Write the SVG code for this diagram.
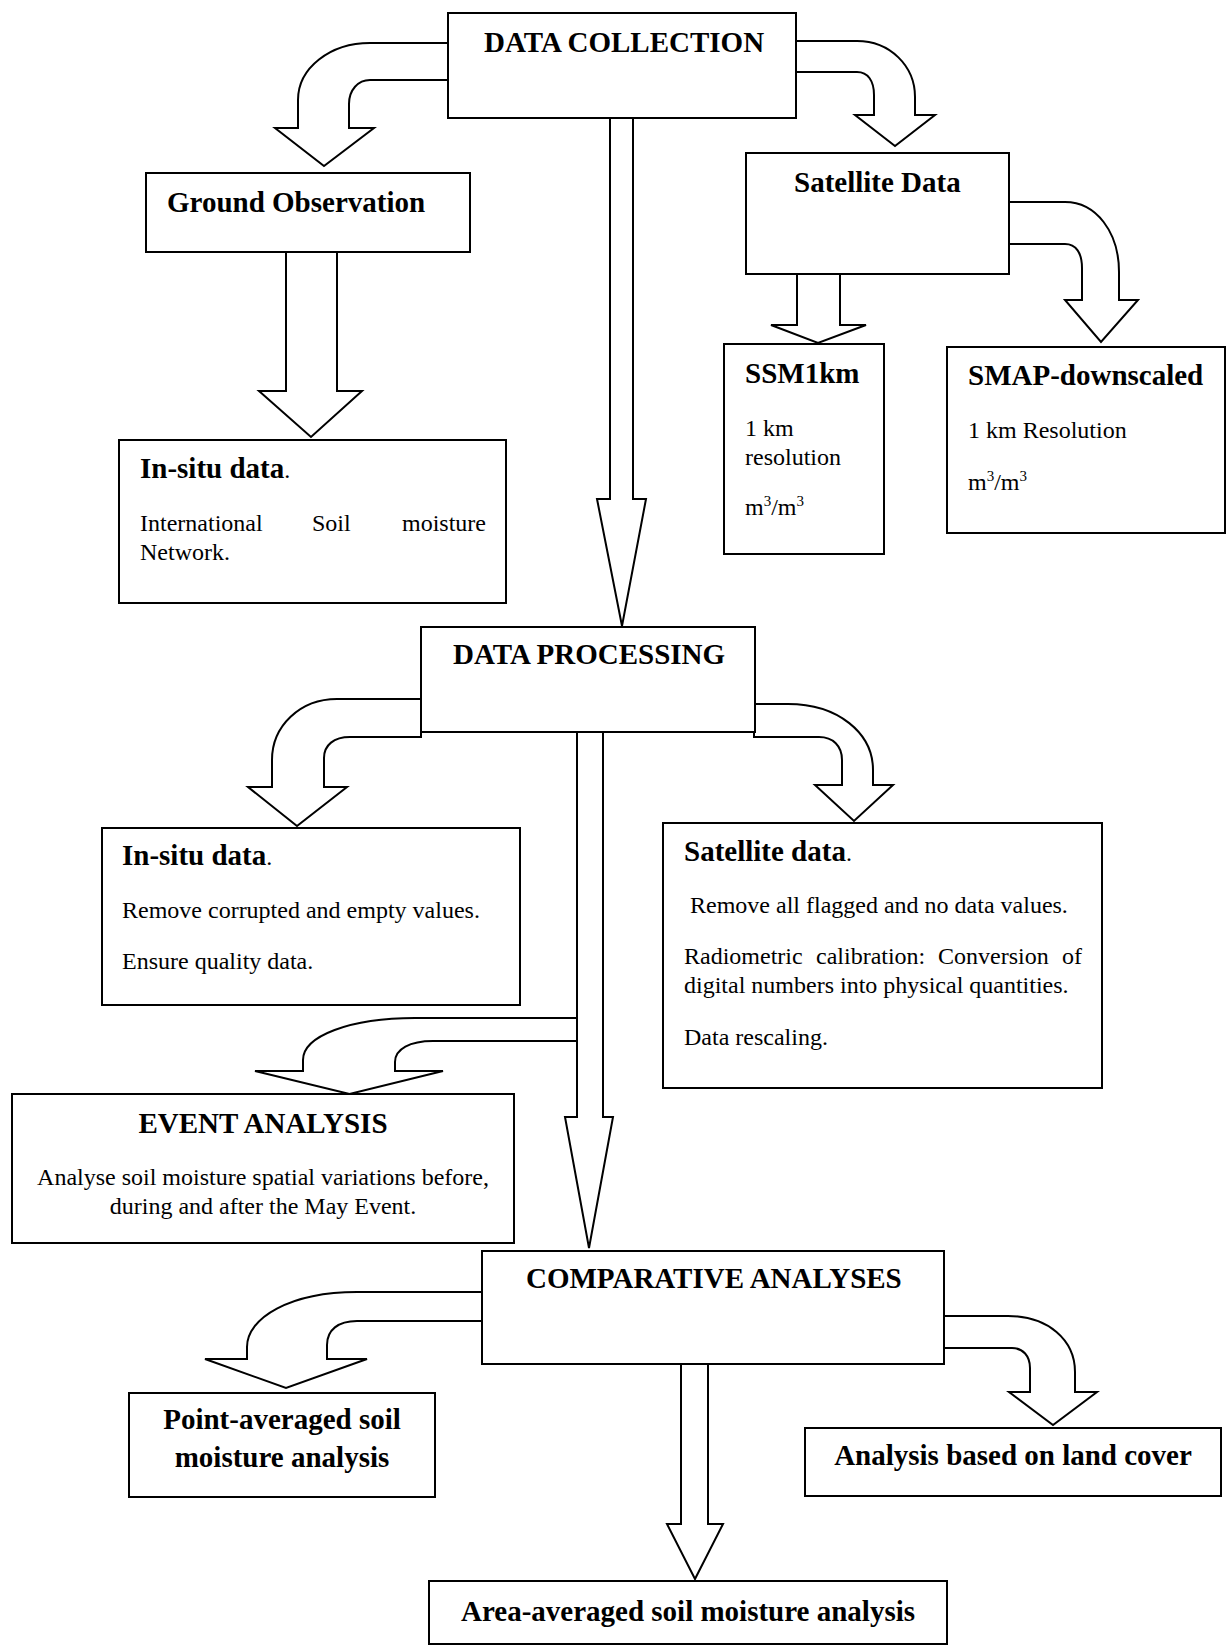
<svg xmlns="http://www.w3.org/2000/svg" width="1228" height="1645" viewBox="0 0 1228 1645">
<style>
.box{fill:#fff;stroke:#000;stroke-width:2}
.arr{fill:#fff;stroke:#000;stroke-width:2;stroke-linejoin:miter}
.h{font-family:"Liberation Serif","Times New Roman",serif;font-weight:bold;font-size:29px;fill:#000}
.t{font-family:"Liberation Serif","Times New Roman",serif;font-size:24px;fill:#000}
.c{text-anchor:middle}
</style>
<rect width="1228" height="1645" fill="#fff"/>
<g id="connectors">
<!-- DATA COLLECTION -> Ground Observation -->
<path class="arr" d="M448,43 H370 C330,43 298,68 298,100 V128 H275 L324,166 L374,128 H349 V104 C349,90 358,80 370,80 H448"/>
<!-- DATA COLLECTION -> Satellite Data -->
<path class="arr" d="M796,41 H857 C890,41 915,66 915,97 V115 H935 L895,146 L855,115 H874 V95 C874,81 868,72 857,72 H796"/>
<!-- DATA COLLECTION -> DATA PROCESSING -->
<path class="arr" d="M610,118 V499 H597 L622,626 L646,499 H633 V118"/>
<!-- Ground Observation -> In-situ -->
<path class="arr" d="M286,252 V391 H259 L311,437 L362,391 H337 V252"/>
<!-- Satellite Data -> SSM1km -->
<path class="arr" d="M797,274 V325 H771 L818,343 L866,325 H840 V274"/>
<!-- Satellite Data -> SMAP -->
<path class="arr" d="M1009,202 H1065 C1096,202 1119,232 1119,272 V300 H1138 L1101,342 L1065,300 H1082 V268 C1082,253 1076,244 1065,244 H1009"/>
<!-- DATA PROCESSING -> In-situ -->
<path class="arr" d="M421,699 H337 C300,699 272,726 272,760 V787 H248 L297,826 L347,787 H324 V758 C324,745 334,737 350,737 H421 Z"/>
<!-- DATA PROCESSING -> Satellite data -->
<path class="arr" d="M754,704 H788 C838,704 873,733 873,770 V785 H893 L854,821 L815,785 H842 V760 C842,746 833,737 819,737 H754 Z"/>
<!-- DATA PROCESSING -> COMPARATIVE ANALYSES -->
<path class="arr" d="M577,732 V1117 H565 L589,1248 L613,1117 H603 V732"/>
<!-- shaft -> EVENT ANALYSIS -->
<path class="arr" d="M577,1018 H415 C350,1018 303,1036 303,1060 V1071 H255 L349.5,1094 L443,1071 H395 V1062 C395,1049 410,1041 433,1041 H577 Z"/>
<!-- COMPARATIVE -> Point-averaged -->
<path class="arr" d="M482,1292 H357 C290,1292 247,1318 247,1347 V1359 H205 L286,1388 L367,1359 H327 V1345 C327,1330 338,1321 357,1321 H482 Z"/>
<!-- COMPARATIVE -> Land cover -->
<path class="arr" d="M944,1316 H1008 C1048,1316 1075,1340 1075,1372 V1392 H1097 L1053,1425 L1009,1392 H1030 V1368 C1030,1356 1023,1348 1012,1348 H944 Z"/>
<!-- COMPARATIVE -> Area-averaged -->
<path class="arr" d="M681,1364 V1524 H667 L695,1579 L723,1524 H708 V1364"/>
</g>
<g id="data-collection">
<rect class="box" x="448" y="13" width="348" height="105"/>
<text class="h" x="484" y="52">DATA COLLECTION</text>
</g>
<g id="ground-observation">
<rect class="box" x="146" y="173" width="324" height="79"/>
<text class="h" x="167" y="212">Ground Observation</text>
</g>
<g id="insitu-collection">
<rect class="box" x="119" y="440" width="387" height="163"/>
<text class="h" x="140" y="478">In-situ data<tspan class="t" font-weight="normal" font-size="24">.</tspan></text>
<text class="t" y="531"><tspan x="140">International</tspan><tspan x="312">Soil</tspan><tspan x="402">moisture</tspan></text>
<text class="t" x="140" y="560">Network.</text>
</g>
<g id="satellite-data">
<rect class="box" x="746" y="153" width="263" height="121"/>
<text class="h" x="794" y="192">Satellite Data</text>
</g>
<g id="ssm1km">
<rect class="box" x="724" y="344" width="160" height="210"/>
<text class="h" x="745" y="383">SSM1km</text>
<text class="t" x="745" y="436">1 km</text>
<text class="t" x="745" y="465">resolution</text>
<text class="t" x="745" y="515">m<tspan font-size="15" dy="-9">3</tspan><tspan dy="9">/m</tspan><tspan font-size="15" dy="-9">3</tspan></text>
</g>
<g id="smap-downscaled">
<rect class="box" x="947" y="347" width="278" height="186"/>
<text class="h" x="968" y="385">SMAP-downscaled</text>
<text class="t" x="968" y="438">1 km Resolution</text>
<text class="t" x="968" y="490">m<tspan font-size="15" dy="-9">3</tspan><tspan dy="9">/m</tspan><tspan font-size="15" dy="-9">3</tspan></text>
</g>
<g id="data-processing">
<rect class="box" x="421" y="627" width="334" height="105"/>
<text class="h" x="453" y="664">DATA PROCESSING</text>
</g>
<g id="insitu-processing">
<rect class="box" x="102" y="828" width="418" height="177"/>
<text class="h" x="122" y="865">In-situ data<tspan font-weight="normal" font-size="24">.</tspan></text>
<text class="t" x="122" y="918">Remove corrupted and empty values.</text>
<text class="t" x="122" y="969">Ensure quality data.</text>
</g>
<g id="satellite-processing">
<rect class="box" x="663" y="823" width="439" height="265"/>
<text class="h" x="684" y="861">Satellite data<tspan font-weight="normal" font-size="24">.</tspan></text>
<text class="t" x="690" y="913">Remove all flagged and no data values.</text>
<text class="t" y="964"><tspan x="684">Radiometric</tspan><tspan x="816">calibration:</tspan><tspan x="938">Conversion</tspan><tspan x="1062">of</tspan></text>
<text class="t" x="684" y="993">digital numbers into physical quantities.</text>
<text class="t" x="684" y="1045">Data rescaling.</text>
</g>
<g id="event-analysis">
<rect class="box" x="12" y="1094" width="502" height="149"/>
<text class="h c" x="263" y="1133">EVENT ANALYSIS</text>
<text class="t c" x="263" y="1185">Analyse soil moisture spatial variations before,</text>
<text class="t c" x="263" y="1214">during and after the May Event.</text>
</g>
<g id="comparative-analyses">
<rect class="box" x="482" y="1251" width="462" height="113"/>
<text class="h" x="526" y="1288">COMPARATIVE ANALYSES</text>
</g>
<g id="point-averaged">
<rect class="box" x="129" y="1393" width="306" height="104"/>
<text class="h c" x="282" y="1429">Point-averaged soil</text>
<text class="h c" x="282" y="1467">moisture analysis</text>
</g>
<g id="land-cover">
<rect class="box" x="805" y="1428" width="416" height="68"/>
<text class="h c" x="1013" y="1465">Analysis based on land cover</text>
</g>
<g id="area-averaged">
<rect class="box" x="429" y="1581" width="518" height="63"/>
<text class="h c" x="688" y="1621">Area-averaged soil moisture analysis</text>
</g>
</svg>
